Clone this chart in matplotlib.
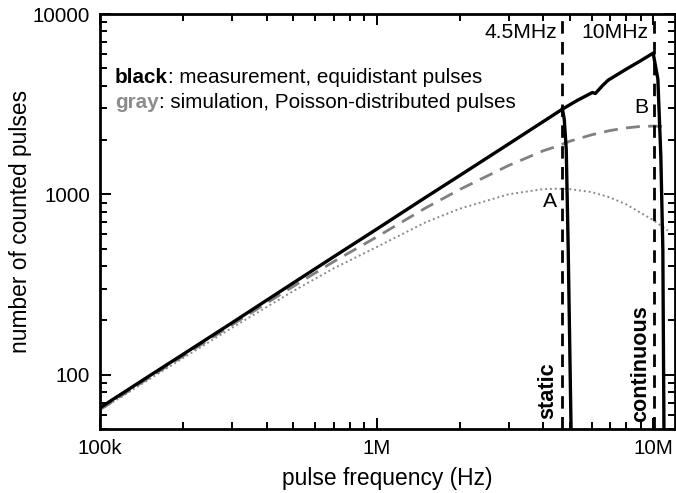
import matplotlib
matplotlib.use("Agg")
import matplotlib.pyplot as plt
from matplotlib.ticker import FixedLocator, LogLocator, NullFormatter

plt.rcParams['font.family'] = ['Liberation Sans', 'DejaVu Sans']

# measurement (equidistant pulses), continuous counting branch
meas_f = [1e5, 1.5e5, 2e5, 3e5, 5e5, 7e5, 1e6, 1.5e6, 2e6, 3e6, 4e6, 4.7e6,
          5.3e6, 6.03e6, 6.18e6, 6.55e6, 6.88e6, 8e6, 9e6, 1e7,
          1.04e7, 1.066e7, 1.084e7, 1.095e7]
meas_n = [65.6, 98, 130, 194, 323, 451, 641, 960, 1273, 1901, 2530, 2970,
          3310, 3670, 3625, 4000, 4300, 4950, 5500, 6070,
          4360, 1626, 495, 40]

# measurement, static counting branch (drops after 4.5 MHz)
static_f = [4.70e6, 4.77e6, 4.85e6, 4.93e6, 5.06e6]
static_n = [2970, 2610, 1778, 495, 40]

# simulation, Poisson-distributed pulses
sim_f = [1e5, 1.5e5, 2e5, 3e5, 5e5, 7e5, 1e6, 1.5e6, 2e6, 3e6, 4e6, 4.5e6,
         5e6, 6e6, 7e6, 8e6, 9e6, 1e7, 1.13e7]
sim_cont = [64, 96, 127, 189, 309, 424, 580, 839, 1065, 1445, 1743, 1850,
            1972, 2140, 2260, 2336, 2380, 2391, 2373]
sim_static = [63.6, 94, 124, 182, 291, 389, 510, 699, 833, 1001, 1069, 1075,
              1069, 1029, 960, 879, 791, 720, 630]

cutoffs = [4.7e6, 1.01e7]

fig = plt.figure(figsize=(6.76, 4.93), dpi=100)
ax = fig.add_axes([0.148, 0.1298, 0.8506, 0.8418])

ax.plot(sim_f, sim_static, color='#8a8a8a', lw=1.4, linestyle=(0, (1, 1.5)))
ax.plot(sim_f, sim_cont, color='#808080', lw=2, linestyle=(0, (5, 3)))
for xc in cutoffs:
    ax.axvline(xc, color='black', lw=2, linestyle=(0, (4.5, 3)))
ax.plot(meas_f, meas_n, color='black', lw=2.4)
ax.plot(static_f, static_n, color='black', lw=2.4)

ax.set_xscale('log')
ax.set_yscale('log')
ax.set_xlim(1e5, 1.2e7)
ax.set_ylim(50, 10000)

ax.xaxis.set_major_locator(FixedLocator([1e5, 1e6, 1e7]))
ax.set_xticklabels(['100k', '1M', '10M'])
ax.yaxis.set_major_locator(FixedLocator([100, 1000, 10000]))
ax.set_yticklabels(['100', '1000', '10000'])
ax.xaxis.set_minor_locator(LogLocator(base=10, subs=range(2, 10)))
ax.yaxis.set_minor_locator(LogLocator(base=10, subs=range(2, 10)))
ax.xaxis.set_minor_formatter(NullFormatter())
ax.yaxis.set_minor_formatter(NullFormatter())

ax.tick_params(which='both', direction='in', top=True, right=True,
               labelsize=14.8, width=1.4, color='black')
ax.tick_params(which='major', length=8, pad=7)
ax.tick_params(which='minor', length=5)
for sp in ax.spines.values():
    sp.set_linewidth(2)

ax.set_xlabel('pulse frequency (Hz)', fontsize=16.4, labelpad=7)
ax.set_ylabel('number of counted pulses', fontsize=16.4, labelpad=1)

t1 = ax.text(0.026, 0.848, 'black', transform=ax.transAxes, fontsize=14.9,
             fontweight='bold', va='center', ha='left')
ax.annotate(': measurement, equidistant pulses', xy=(1, 0), xycoords=t1,
            va='bottom', ha='left', fontsize=14.9)
t2 = ax.text(0.026, 0.786, 'gray', transform=ax.transAxes, fontsize=14.9,
             fontweight='bold', color='#8c8c8c', va='center', ha='left')
ax.annotate(': simulation, Poisson-distributed pulses', xy=(1, 0), xycoords=t2,
            va='bottom', ha='left', fontsize=14.9)

ax.text(4.51e6, 7943, '4.5MHz', ha='right', va='center', fontsize=15.2)
ax.text(9.6e6, 7943, '10MHz', ha='right', va='center', fontsize=15.2)
ax.text(4.25e6, 914, 'A', ha='center', va='center', fontsize=15.2)
ax.text(9.03e6, 3043, 'B', ha='center', va='center', fontsize=15.2)
ax.text(4.14e6, 57, 'static', rotation=90, ha='center', va='bottom',
        fontsize=15.6, fontweight='bold')
ax.text(9.0e6, 55, 'continuous', rotation=90, ha='center', va='bottom',
        fontsize=15.6, fontweight='bold')

fig.savefig('out.png', dpi=100)
